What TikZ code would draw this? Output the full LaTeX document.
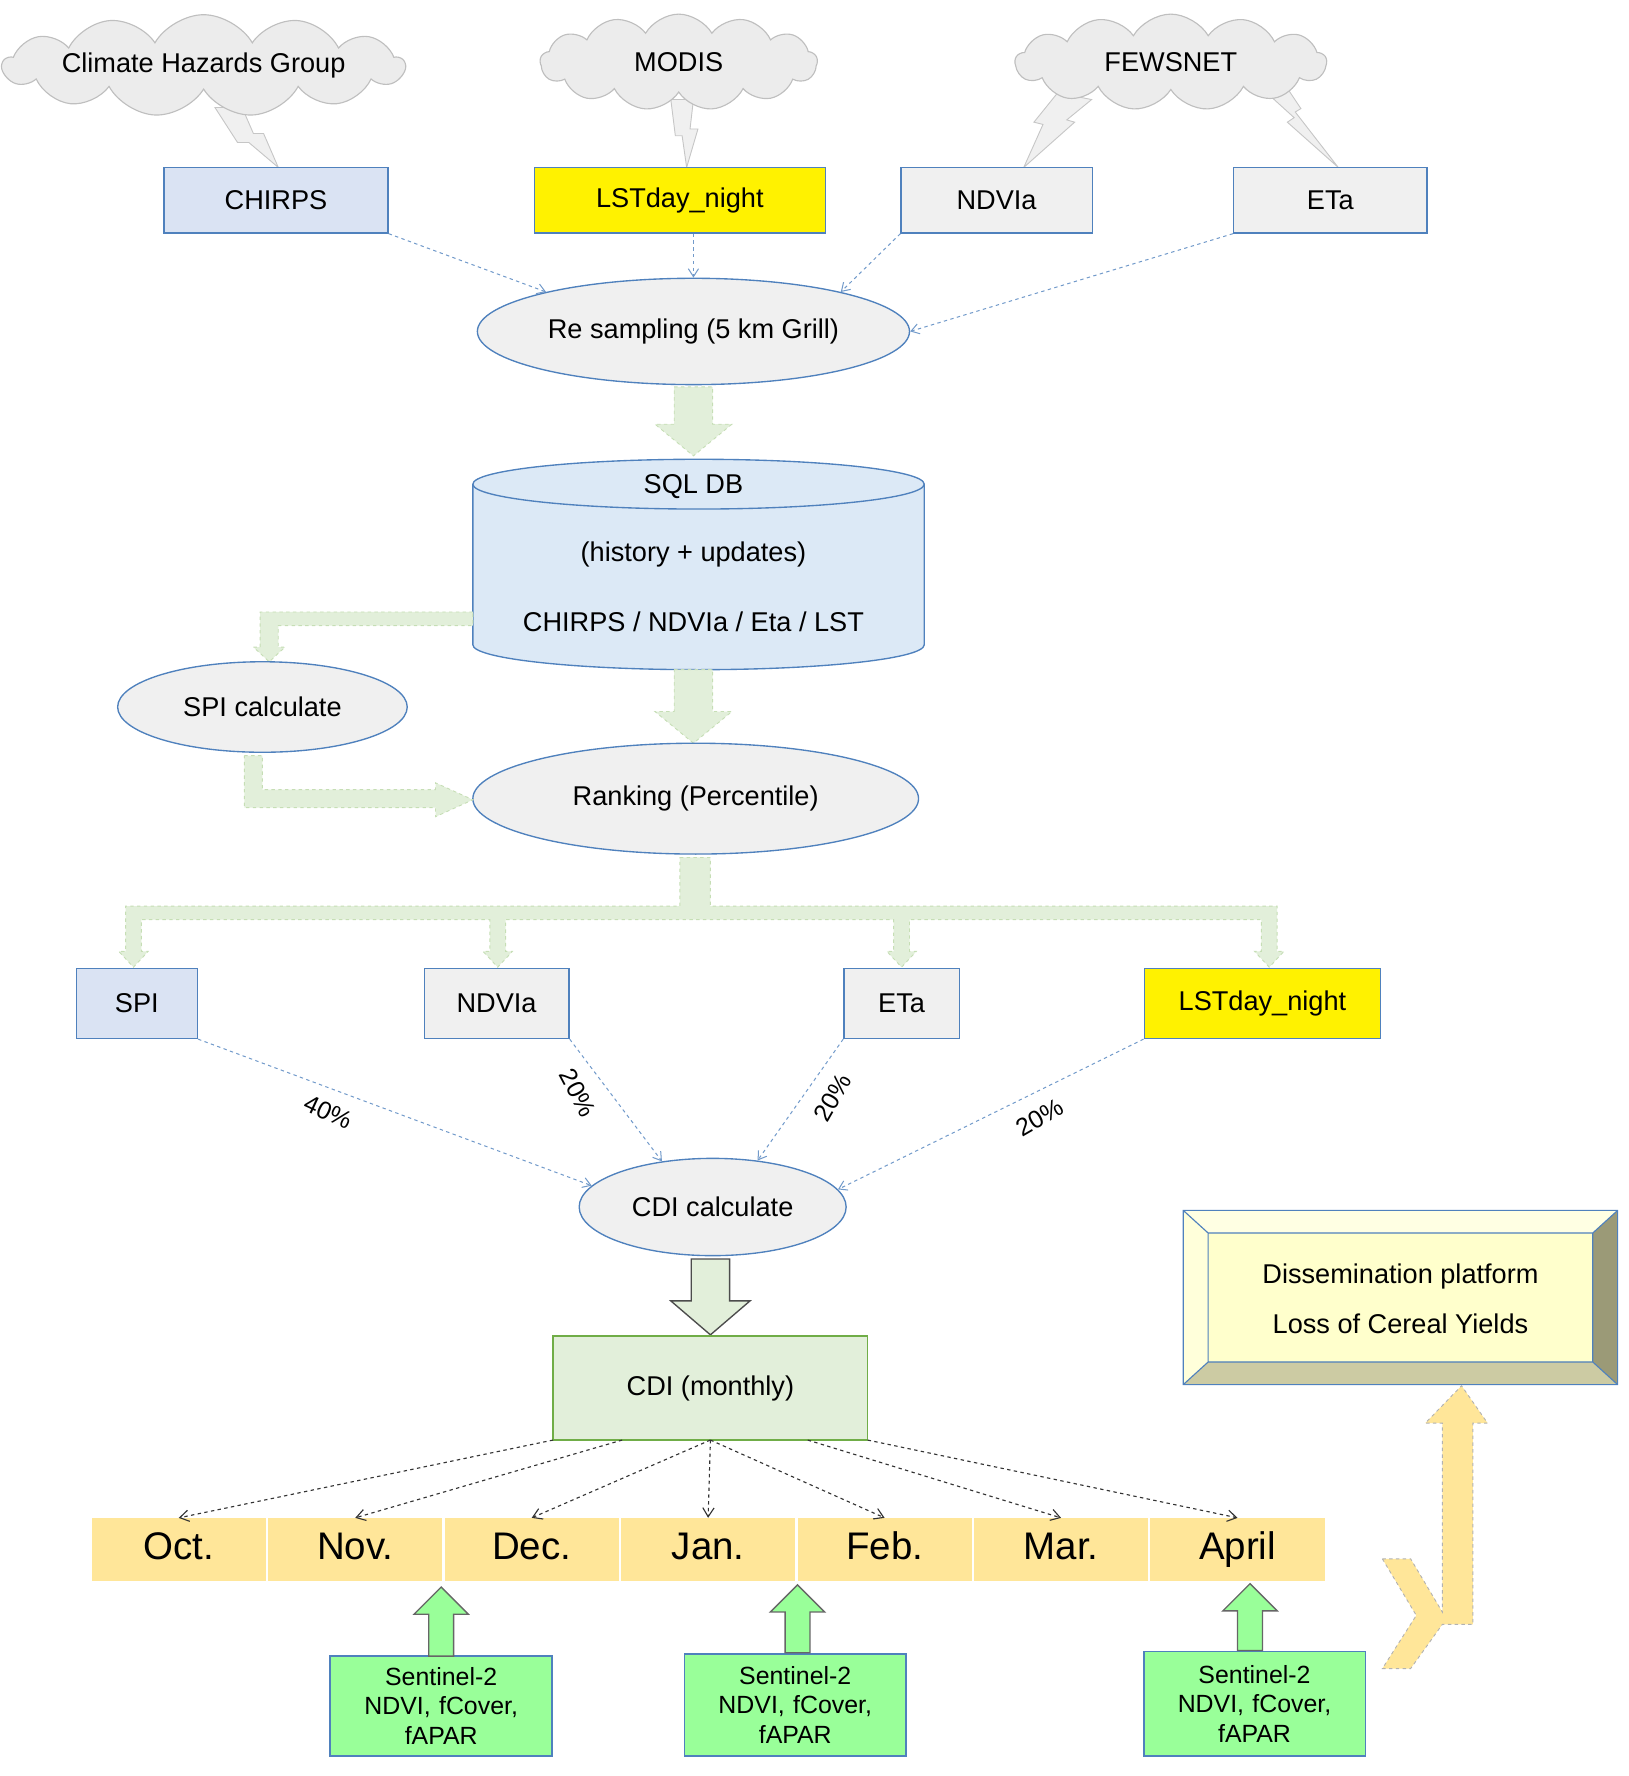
\documentclass[tikz,border=0pt]{standalone}
\usepackage{fontspec}
\setmainfont{Liberation Sans}
\usetikzlibrary{shapes.geometric,shapes.symbols,arrows.meta}
\definecolor{bblue}{HTML}{4F81BD}
\definecolor{lblue}{HTML}{DAE3F3}
\definecolor{lgray}{HTML}{F0F0F0}
\definecolor{lgreen}{HTML}{E2EFDA}
\definecolor{dgreen}{HTML}{70AD47}
\definecolor{mon}{HTML}{FFE699}
\definecolor{sgreen}{HTML}{99FF99}
\definecolor{dbblue}{HTML}{DCE9F6}
\definecolor{bvin}{HTML}{FFFFCC}
\definecolor{bvtop}{HTML}{FFFFE3}
\definecolor{bvleft}{HTML}{FFFFDA}
\definecolor{bvright}{HTML}{9B9A77}
\definecolor{bvbot}{HTML}{CCCBA3}
\tikzset{
  txt/.style={font=\fontsize{24}{28}\selectfont},
  box/.style={txt,draw=bblue,line width=1.2pt,minimum height=58pt,inner sep=0pt},
  ell/.style={txt,ellipse,draw=bblue,fill=lgray,line width=1.2pt,inner sep=0pt},
  cld/.style={txt,cloud,cloud puffs=13,cloud puff arc=120,cloud ignores aspect,draw=gray!50,fill=gray!15,line width=1pt,inner sep=0pt},
  bolt/.style={draw=gray!45,fill=gray!12,line width=0.8pt},
  dblue/.style={draw=bblue!80,dashed,line width=0.9pt,-{Straight Barb[length=7pt,width=9pt]}},
  dblack/.style={draw=black!80,dashed,line width=1pt,-{Straight Barb[length=8pt,width=10pt]}},
  garr/.style={fill=lgreen,draw=dgreen!40,dashed,line width=0.8pt},
  pct/.style={font=\fontsize{22}{26}\selectfont},
  month/.style={font=\fontsize{34}{40}\selectfont,fill=mon,minimum width=154pt,minimum height=56pt,inner sep=0pt,text height=25pt,text depth=7pt},
  sent/.style={font=\fontsize{22}{26}\selectfont,align=center,draw=bblue,fill=sgreen,line width=1.5pt,minimum width=196pt,inner sep=0pt,text width=190pt},
}
\newcommand\vblk[7]{\draw[#7] ({#1-#4},#2)--({#1+#4},#2)--({#1+#4},{#3-#6})--({#1+#5},{#3-#6})--(#1,#3)--({#1-#5},{#3-#6})--({#1-#4},{#3-#6})--cycle;}
\newcommand\upblk[7]{\draw[#7] ({#1-#4},#2)--({#1+#4},#2)--({#1+#4},{#3+#6})--({#1+#5},{#3+#6})--(#1,#3)--({#1-#5},{#3+#6})--({#1-#4},{#3+#6})--cycle;}
\begin{document}
\begin{tikzpicture}[x=1pt,y=-1pt]
\useasboundingbox (0,0) rectangle (1440,1570);
% bolts
\draw[bolt] (190,95)--(214,95)--(224,118)--(233,118)--(246,148)--(220,126)--(210,126)--cycle;
\draw[bolt] (593,88)--(613,88)--(610,114)--(617,114)--(607,148)--(603,120)--(597,120)--cycle;
\draw[bolt] (935,82)--(965,88)--(943,106)--(950,108)--(905,148)--(922,110)--(914,108)--cycle;
\draw[bolt] (1112,75)--(1138,78)--(1150,96)--(1145,99)--(1183,148)--(1138,108)--(1144,104)--cycle;
% clouds
\node[cld,minimum width=355pt,minimum height=90pt] (chg) at (180,58) {Climate Hazards Group};
\node[cld,minimum width=245pt,minimum height=85pt] (modis) at (600,55) {MODIS};
\node[cld,minimum width=275pt,minimum height=85pt] (fews) at (1035,55) {FEWSNET};
% top boxes
\node[box,fill=lblue,minimum width=198pt] (chirps) at (244,177) {CHIRPS};
\node[box,fill=yellow,minimum width=257pt] (lst1) at (601,177) {LSTday\_night};
\node[box,fill=lgray,minimum width=169pt] (ndvi1) at (881,177) {NDVIa};
\node[box,fill=lgray,minimum width=171pt] (eta1) at (1176,177) {ETa};
\node[ell,minimum width=382pt,minimum height=94pt] (res) at (613,293) {Re sampling (5 km Grill)};
\draw[dblue] (chirps.south east) -- (res.165);
\draw[dblue] (lst1.south -| res.north) -- (res.north);
\draw[dblue] (ndvi1.south west) -- (res.15);
\draw[dblue] (eta1.south west) -- (res.east);
% arrow res -> db
\vblk{613}{342}{403}{17}{34}{28}{garr}
% cylinder
\draw[draw=bblue,fill=dbblue,line width=1.2pt] (418,428) -- (418,570) arc[start angle=180,end angle=0,x radius=199.5,y radius=22] -- (817,428);
\draw[draw=bblue,fill=dbblue,line width=1.2pt] (617.5,428) ellipse[x radius=199.5,y radius=22];
\node[txt] (db) at (613,430) {SQL DB};
\node[txt] (dbh) at (613,490) {(history + updates)};
\node[txt] (dbc) at (613,550) {CHIRPS / NDVIa / Eta / LST};
% elbow db -> spi calc
\draw[garr] (418,541)--(230,541)--(230,572)--(224,572)--(238,585)--(252,572)--(246,572)--(246,553)--(418,553)--cycle;
\node[ell,minimum width=256pt,minimum height=80pt] (spic) at (232,625) {SPI calculate};
% db -> ranking
\vblk{613}{592}{657}{17}{34}{28}{garr}
\node[ell,minimum width=394pt,minimum height=98pt] (rank) at (615,706) {Ranking (Percentile)};
% spic -> rank
\draw[garr] (216,668)--(232,668)--(232,698)--(385,698)--(385,692)--(418,707)--(385,722)--(385,714)--(216,714)--cycle;
% rank -> branches
\draw[garr] (601,758)--(628,758)--(628,801)--(1129,801)--(1129,841)--(1135,841)--(1122,855)--(1109,841)--(1115,841)--(1115,813)
 --(804,813)--(804,841)--(810,841)--(797,855)--(784,841)--(790,841)--(790,813)
 --(447,813)--(447,841)--(453,841)--(440,855)--(427,841)--(433,841)--(433,813)
 --(125,813)--(125,841)--(131,841)--(118,855)--(105,841)--(111,841)--(111,801)--(601,801)--cycle;
% second row boxes
\node[box,fill=lblue,minimum width=107pt,minimum height=62pt] (spi) at (121,887) {SPI};
\node[box,fill=lgray,minimum width=128pt,minimum height=62pt] (ndvi2) at (439,887) {NDVIa};
\node[box,fill=lgray,minimum width=102pt,minimum height=62pt] (eta2) at (797,887) {ETa};
\node[box,fill=yellow,minimum width=209pt,minimum height=62pt] (lst2) at (1116,887) {LSTday\_night};
\node[ell,minimum width=236pt,minimum height=86pt] (cdic) at (630,1067) {CDI calculate};
\draw[dblue] (spi.south east) -- (cdic.170);
\draw[dblue] (ndvi2.south east) -- (cdic.138);
\draw[dblue] (eta2.south west) -- (cdic.46);
\draw[dblue] (lst2.south west) -- (cdic.8);
\node[pct,rotate=-25] (p1) at (290,983) {40\%};
\node[pct,rotate=-62] (p2) at (511,966) {20\%};
\node[pct,rotate=60] (p3) at (736,970) {20\%};
\node[pct,rotate=30] (p4) at (919,988) {20\%};
% cdi calc -> cdi monthly
\vblk{628}{1113}{1180}{17}{35}{30}{fill=lgreen,draw=black!70,line width=1.2pt}
\node[txt,draw=dgreen,fill=lgreen,line width=1.2pt,minimum width=278pt,minimum height=92pt] (cdim) at (628,1227) {CDI (monthly)};
% months
\foreach \n/\t [count=\i] in {oct/Oct.,nov/Nov.,dec/Dec.,jan/Jan.,feb/Feb.,mar/Mar.,apr/April}
  \node[month] (\n) at ({80+78+(\i-1)*156},1370) {\t};
\coordinate (c1) at (489,1273); \coordinate (c2) at (550,1273); \coordinate (c3) at (628,1273);
\coordinate (c4) at (714,1273); \coordinate (c5) at (767,1273);
\draw[dblack] (c1) -- (oct.north);
\draw[dblack] (c2) -- (nov.north);
\draw[dblack] (c3) -- (dec.north);
\draw[dblack] (c3) -- (jan.north);
\draw[dblack] (c3) -- (feb.north);
\draw[dblack] (c4) -- (mar.north);
\draw[dblack] (c5) -- (apr.north);
% sentinel
\node[sent,minimum height=88pt] (s1) at (390,1508) {Sentinel-2\\NDVI, fCover,\\fAPAR};
\node[sent,minimum height=90pt] (s2) at (703,1507) {Sentinel-2\\NDVI, fCover,\\fAPAR};
\node[sent,minimum height=92pt] (s3) at (1109,1506) {Sentinel-2\\NDVI, fCover,\\fAPAR};
\upblk{390}{1464}{1403}{11}{24}{24}{fill=sgreen,draw=black!60,line width=1.2pt}
\upblk{705}{1461}{1401}{11}{24}{24}{fill=sgreen,draw=black!60,line width=1.2pt}
\upblk{1105}{1459}{1400}{11}{24}{24}{fill=sgreen,draw=black!60,line width=1.2pt}
% dissemination bevel box
\fill[bvin] (1046,1070) rectangle (1430,1224);
\fill[bvtop] (1046,1070)--(1430,1070)--(1408,1090)--(1068,1090)--cycle;
\fill[bvleft] (1046,1070)--(1068,1090)--(1068,1204)--(1046,1224)--cycle;
\fill[bvright] (1430,1070)--(1408,1090)--(1408,1204)--(1430,1224)--cycle;
\fill[bvbot] (1046,1224)--(1068,1204)--(1408,1204)--(1430,1224)--cycle;
\draw[bblue,line width=1pt] (1046,1070) rectangle (1430,1224) (1068,1090) rectangle (1408,1204)
 (1046,1070)--(1068,1090) (1430,1070)--(1408,1090) (1046,1224)--(1068,1204) (1430,1224)--(1408,1204);
\node[txt,align=center,font=\fontsize{24}{44}\selectfont] (diss) at (1238,1148) {Dissemination platform\\Loss of Cereal Yields};
% yellow arrow
\draw[fill=mon,draw=gray!60,dashed,line width=0.8pt] (1222,1378)--(1247,1378)--(1275,1425)--(1275,1258)--(1260,1258)--(1292,1225)--(1315,1258)--(1302,1258)--(1302,1436)--(1275,1436)--(1247,1475)--(1222,1475)--(1252,1428)--cycle;
\end{tikzpicture}
\end{document}
